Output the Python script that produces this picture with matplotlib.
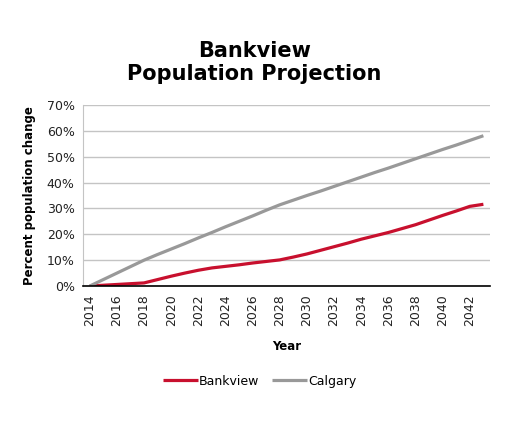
import matplotlib
matplotlib.use("Agg")
import matplotlib.pyplot as plt
from matplotlib.ticker import PercentFormatter

years = list(range(2014, 2044))
bankview = [0.0, 0.3, 0.6, 0.9, 1.2, 2.5, 3.8, 5.0, 6.1, 7.0,
            7.6, 8.2, 8.9, 9.5, 10.1, 11.2, 12.4, 13.8, 15.2, 16.6,
            18.1, 19.4, 20.7, 22.2, 23.7, 25.5, 27.3, 29.0, 30.8, 31.6]
calgary = [0.0, 2.5, 5.0, 7.5, 10.0, 12.2, 14.3, 16.4, 18.6, 20.7,
           22.9, 25.0, 27.1, 29.3, 31.4, 33.2, 35.0, 36.7, 38.5, 40.3,
           42.1, 43.9, 45.6, 47.4, 49.2, 51.0, 52.8, 54.5, 56.3, 58.1]
tick_years = list(range(2014, 2043, 2))

RED = "#C8102E"
GREY = "#999999"

fig = plt.figure(figsize=(5.09, 4.25), dpi=100)
ax = fig.add_axes([0.163, 0.327, 0.800, 0.426])

x = list(range(len(years)))
ax.plot(x, [v / 100 for v in bankview], color=RED, lw=2.3, label="Bankview", solid_capstyle="butt")
ax.plot(x, [v / 100 for v in calgary], color=GREY, lw=2.3, label="Calgary", solid_capstyle="butt")

ax.set_xlim(-0.5, len(years) - 0.5)
ax.set_ylim(0, 0.7)
ax.set_yticks([i / 10 for i in range(8)])
ax.yaxis.set_major_formatter(PercentFormatter(1.0, decimals=0))
ax.set_xticks([years.index(y) for y in tick_years])
ax.set_xticklabels([str(y) for y in tick_years], rotation=90)

ax.grid(axis="y", color="#c4c4c4", lw=1)
ax.set_axisbelow(True)
for s in ["top", "right"]:
    ax.spines[s].set_visible(False)
ax.spines["left"].set_color("#c4c4c4")
ax.spines["bottom"].set_color("black")
ax.spines["bottom"].set_linewidth(1.2)
ax.tick_params(axis="y", length=0, labelsize=9, pad=6, colors="#222222")
ax.tick_params(axis="x", length=0, labelsize=9, pad=6, colors="#222222")

ax.set_xlabel("Year", fontsize=8.5, fontweight="bold", labelpad=10)
ax.set_ylabel("Percent population change", fontsize=8.5, fontweight="bold", labelpad=8)

fig.text(0.5, 0.853, "Bankview\nPopulation Projection", ha="center", va="center",
         fontsize=15, fontweight="bold", linespacing=1.2)

fig.legend(loc="center", bbox_to_anchor=(0.51, 0.103), ncol=2, frameon=False,
           fontsize=9, handlelength=2.8, handletextpad=0.1, columnspacing=1.0)

fig.savefig("out.png", dpi=100)
